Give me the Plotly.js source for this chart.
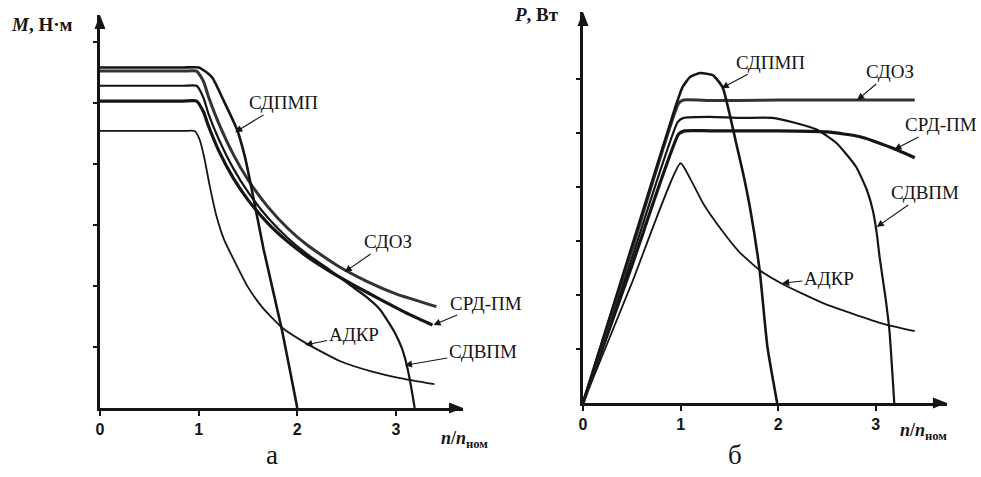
<!DOCTYPE html>
<html>
<head>
<meta charset="utf-8">
<script src="https://cdn.plot.ly/plotly-3.0.1.min.js"></script>
<style>html,body{margin:0;padding:0;background:#fff;}#chart{width:981px;height:477px;}</style>
</head>
<body>
<div id="chart"></div>
<script>
// ---------- Panel а : M(n/nном) ----------
const seriesNames = ['СДПМП', 'СДОЗ', 'СРД-ПМ', 'СДВПМ', 'АДКР'];
const xTicks = [0, 1, 2, 3];
const xTickText = ['0', '1', '2', '3'];

const nM_SDPMP = [0, 0.3, 0.6, 0.85, 1.0, 1.08, 1.14, 1.25, 1.39, 1.47, 1.53, 1.60, 1.66, 1.84, 2.0];
const M_SDPMP  = [5.58, 5.58, 5.58, 5.58, 5.58, 5.5, 5.41, 5.05, 4.56, 4.11, 3.65, 3.08, 2.59, 1.31, 0];

const nM_SDOZ = [0, 0.3, 0.6, 0.85, 0.98, 1.05, 1.1, 1.2, 1.35, 1.5, 1.7, 1.9, 2.1, 2.4, 2.7, 3.0, 3.41];
const M_SDOZ  = [5.52, 5.52, 5.52, 5.52, 5.52, 5.35, 5.1, 4.68, 4.16, 3.74, 3.30, 2.95, 2.67, 2.34, 2.08, 1.87, 1.66];

const nM_SRD = [0, 0.3, 0.6, 0.85, 0.98, 1.05, 1.1, 1.2, 1.35, 1.5, 1.7, 1.9, 2.1, 2.33, 2.6, 2.84, 3.14, 3.37];
const M_SRD  = [5.03, 5.03, 5.03, 5.03, 5.03, 4.85, 4.62, 4.23, 3.77, 3.41, 3.03, 2.73, 2.48, 2.24, 1.99, 1.78, 1.53, 1.36];

const nM_SDVPM = [0, 0.3, 0.6, 0.85, 0.98, 1.05, 1.1, 1.2, 1.35, 1.5, 1.7, 1.9, 2.1, 2.33, 2.53, 2.7, 2.84, 2.99, 3.06, 3.11, 3.15, 3.19];
const M_SDVPM  = [5.28, 5.28, 5.28, 5.28, 5.28, 5.08, 4.82, 4.42, 3.93, 3.54, 3.12, 2.79, 2.52, 2.26, 2.02, 1.82, 1.61, 1.23, 0.98, 0.70, 0.38, 0];

const nM_ADKR = [0, 0.3, 0.6, 0.85, 0.96, 1.01, 1.06, 1.11, 1.18, 1.26, 1.35, 1.5, 1.65, 1.85, 2.1, 2.43, 2.75, 3.04, 3.39];
const M_ADKR  = [4.54, 4.54, 4.54, 4.54, 4.54, 4.40, 4.08, 3.66, 3.15, 2.75, 2.45, 1.98, 1.64, 1.31, 1.05, 0.77, 0.60, 0.49, 0.39];

// ---------- Panel б : P(n/nном) ----------
const nP_SDPMP = [0, 0.5, 0.95, 1.02, 1.1, 1.2, 1.33, 1.43, 1.5, 1.57, 1.64, 1.71, 1.81, 1.89, 1.99];
const P_SDPMP  = [0, 2.9, 5.5, 5.85, 6.04, 6.11, 6.07, 5.85, 5.37, 4.81, 4.26, 3.63, 2.46, 1.04, 0];

const nP_SDOZ = [0, 0.5, 0.98, 1.03, 1.3, 1.6, 2.0, 2.5, 3.0, 3.4];
const P_SDOZ  = [0, 2.83, 5.55, 5.61, 5.6, 5.6, 5.61, 5.61, 5.61, 5.61];

const nP_SRD = [0, 0.5, 0.98, 1.04, 1.3, 1.6, 2.0, 2.5, 2.84, 3.17, 3.4];
const P_SRD  = [0, 2.54, 4.98, 5.04, 5.04, 5.04, 5.04, 5.02, 4.93, 4.72, 4.54];

const nP_SDVPM = [0, 0.5, 0.97, 1.03, 1.3, 1.6, 1.94, 2.15, 2.4, 2.6, 2.8, 2.91, 2.97, 3.01, 3.04, 3.1, 3.14, 3.19];
const P_SDVPM  = [0, 2.68, 5.2, 5.28, 5.3, 5.28, 5.28, 5.2, 5.06, 4.81, 4.37, 3.94, 3.57, 3.15, 2.70, 1.95, 1.35, 0];

const nP_ADKR = [0, 0.5, 1.0, 1.1, 1.23, 1.43, 1.6, 1.81, 2.05, 2.46, 3.07, 3.4];
const P_ADKR  = [0, 2.22, 4.44, 4.15, 3.7, 3.18, 2.8, 2.46, 2.2, 1.85, 1.47, 1.33];

// label anchor points (tip on curve, text position), in data units
const labelsM = [
  {t: 'СДПМП', x: 1.37, y: 4.52, ax: 1.86, ay: 5.0},
  {t: 'СДОЗ',  x: 2.48, y: 2.23, ax: 2.92, ay: 2.72},
  {t: 'СРД-ПМ', x: 3.38, y: 1.36, ax: 3.91, ay: 1.72},
  {t: 'АДКР',  x: 2.08, y: 1.03, ax: 2.57, ay: 1.20},
  {t: 'СДВПМ', x: 3.09, y: 0.70, ax: 3.88, ay: 0.92}
];
const labelsP = [
  {t: 'СДПМП', x: 1.42, y: 5.83, ax: 1.92, ay: 6.31},
  {t: 'СДОЗ',  x: 2.81, y: 5.61, ax: 3.15, ay: 6.13},
  {t: 'СРД-ПМ', x: 3.19, y: 4.69, ax: 3.67, ay: 5.15},
  {t: 'СДВПМ', x: 3.01, y: 3.26, ax: 3.51, ay: 3.89},
  {t: 'АДКР',  x: 2.04, y: 2.22, ax: 2.52, ay: 2.31}
];

const INK = '#151515';
function tr(x, y, xa, ya, color, width) {
  return {x: x, y: y, xaxis: xa, yaxis: ya, type: 'scatter', mode: 'lines',
    line: {color: color, width: width, shape: 'spline', smoothing: 0.5},
    hoverinfo: 'skip', showlegend: false, cliponaxis: true};
}
const data = [
  tr(nM_ADKR, M_ADKR, 'x', 'y', INK, 1.8),
  tr(nM_SDVPM, M_SDVPM, 'x', 'y', INK, 2.2),
  tr(nM_SRD, M_SRD, 'x', 'y', INK, 3.2),
  tr(nM_SDOZ, M_SDOZ, 'x', 'y', '#333333', 3.0),
  tr(nM_SDPMP, M_SDPMP, 'x', 'y', INK, 2.6),
  tr(nP_ADKR, P_ADKR, 'x2', 'y2', INK, 1.8),
  tr(nP_SDVPM, P_SDVPM, 'x2', 'y2', INK, 2.2),
  tr(nP_SRD, P_SRD, 'x2', 'y2', INK, 3.2),
  tr(nP_SDOZ, P_SDOZ, 'x2', 'y2', '#333333', 3.0),
  tr(nP_SDPMP, P_SDPMP, 'x2', 'y2', INK, 2.6)
];

const tickFont = {family: 'Liberation Sans, Arial, sans-serif', size: 16, color: INK, weight: 'bold'};
function xAxis(domain, range, anchor) {
  return {domain: domain, range: range, anchor: anchor, showline: true, linewidth: 3, linecolor: INK,
    ticks: 'outside', tickvals: xTicks, ticktext: xTickText, ticklen: 5, tickwidth: 2, tickcolor: INK,
    tickfont: tickFont, showgrid: false, zeroline: false, fixedrange: true};
}
function yAxis(domain, range, anchor) {
  return {domain: domain, range: range, anchor: anchor, showline: true, linewidth: 3, linecolor: INK,
    ticks: 'outside', tickvals: [1, 2, 3, 4, 5, 6], ticklen: 4, tickwidth: 1.5, tickcolor: INK,
    showticklabels: false, showgrid: false, zeroline: false, fixedrange: true};
}

const xRange1 = [0, 3.68], yRange1 = [0, 6.44];
const xRange2 = [0, 3.73], yRange2 = [0, 7.24];

const ann = [];
function curveLabels(list, xr, yr) {
  list.forEach(l => ann.push({text: l.t, x: l.x, y: l.y, ax: l.ax, ay: l.ay,
    xref: xr, yref: yr, axref: xr, ayref: yr, showarrow: true, arrowhead: 2, arrowsize: 1.3,
    arrowwidth: 1.1, arrowcolor: INK, standoff: 0,
    font: {family: 'Liberation Serif, Times New Roman, serif', size: 19, color: INK}}));
}
curveLabels(labelsM, 'x', 'y');
curveLabels(labelsP, 'x2', 'y2');

// axis arrowheads as pixel-sized filled triangles at the axis ends
const shapes = [];
function axisArrows(xr, yr) {
  shapes.push({type: 'path', xref: xr + ' domain', yref: yr + ' domain', xsizemode: 'pixel', ysizemode: 'pixel',
    xanchor: 1, yanchor: 0, path: 'M -14 -5.5 L 0 0 L -14 5.5 Z', fillcolor: INK, line: {width: 0}, layer: 'above'});
  shapes.push({type: 'path', xref: xr + ' domain', yref: yr + ' domain', xsizemode: 'pixel', ysizemode: 'pixel',
    xanchor: 0, yanchor: 1, path: 'M -5.5 -14 L 0 0 L 5.5 -14 Z', fillcolor: INK, line: {width: 0}, layer: 'above'});
}
axisArrows('x', 'y');
axisArrows('x2', 'y2');

function paperText(text, x, y, size, xanchor) {
  ann.push({text: text, xref: 'paper', yref: 'paper', x: x, y: y, xanchor: xanchor || 'center',
    yanchor: 'middle', showarrow: false,
    font: {family: 'Liberation Serif, Times New Roman, serif', size: size, color: INK}});
}
paperText('<b><i>M</i>, Н·м</b>', 0.0428, 0.9476, 19);
paperText('<b><i>P</i>, Вт</b>', 0.5474, 0.9686, 19);
const nTitle = '<b><i>n</i>/<i>n</i><sub>ном</sub></b>';
paperText(nTitle, 0.4475, 0.0776, 18, 'left');
paperText(nTitle, 0.9154, 0.0964, 18, 'left');
paperText('а', 0.2773, 0.046, 27);
paperText('б', 0.7492, 0.046, 27);

const layout = {
  width: 981, height: 477,
  margin: {l: 0, r: 0, t: 0, b: 0},
  paper_bgcolor: '#ffffff', plot_bgcolor: '#ffffff',
  showlegend: false,
  xaxis: xAxis([0.1019, 0.4720], xRange1, 'y'),
  yaxis: yAxis([0.1447, 0.9686], yRange1, 'x'),
  xaxis2: xAxis([0.5943, 0.9653], xRange2, 'y2'),
  yaxis2: yAxis([0.1551, 0.9748], yRange2, 'x2'),
  annotations: ann,
  shapes: shapes
};

Plotly.newPlot('chart', data, layout, {staticPlot: true, displayModeBar: false});
</script>
</body>
</html>
